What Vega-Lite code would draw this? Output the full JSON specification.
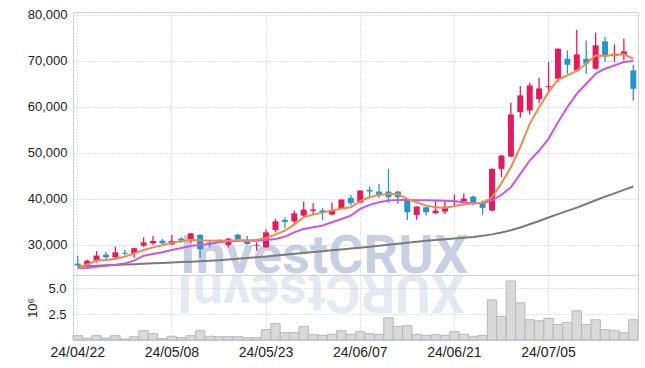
{
  "$schema": "https://vega.github.io/schema/vega-lite/v6.json",
  "padding": {"left": 26, "top": 8, "right": 8, "bottom": 4},
  "background": "white",
  "datasets": {
    "ohlc": [
      {"d":"24/04/22","o":25950,"h":27650,"l":25300,"c":25550,"v":0.42,"ma5":24930,"ma20":24930,"ma60":25300},
      {"d":"24/04/23","o":25700,"h":26800,"l":25600,"c":26600,"v":0.19,"ma5":25750,"ma20":25000,"ma60":25390},
      {"d":"24/04/24","o":26600,"h":28700,"l":26150,"c":27700,"v":0.42,"ma5":26590,"ma20":25280,"ma60":25480},
      {"d":"24/04/25","o":27900,"h":28500,"l":26800,"c":27300,"v":0.19,"ma5":26740,"ma20":25500,"ma60":25570},
      {"d":"24/04/26","o":27300,"h":29600,"l":27200,"c":28400,"v":0.42,"ma5":26960,"ma20":25720,"ma60":25660},
      {"d":"24/04/29","o":28300,"h":28900,"l":27700,"c":28100,"v":0.10,"ma5":27460,"ma20":26000,"ma60":25750},
      {"d":"24/04/30","o":28200,"h":29400,"l":27200,"c":29300,"v":0.32,"ma5":28180,"ma20":26590,"ma60":25840},
      {"d":"24/05/02","o":29850,"h":31650,"l":29560,"c":30560,"v":0.90,"ma5":28910,"ma20":27670,"ma60":25930},
      {"d":"24/05/03","o":30350,"h":31960,"l":30050,"c":30870,"v":0.61,"ma5":29480,"ma20":28040,"ma60":26020},
      {"d":"24/05/07","o":30940,"h":31300,"l":30100,"c":30350,"v":0.15,"ma5":29920,"ma20":28400,"ma60":26110},
      {"d":"24/05/08","o":30130,"h":32170,"l":30000,"c":30870,"v":0.36,"ma5":30500,"ma20":28910,"ma60":26200},
      {"d":"24/05/09","o":31370,"h":31650,"l":30500,"c":30940,"v":0.22,"ma5":30800,"ma20":29350,"ma60":26290},
      {"d":"24/05/10","o":31220,"h":32600,"l":30500,"c":32520,"v":0.42,"ma5":31100,"ma20":29780,"ma60":26380},
      {"d":"24/05/13","o":32200,"h":32300,"l":27200,"c":29100,"v":0.90,"ma5":31000,"ma20":30070,"ma60":26470},
      {"d":"24/05/14","o":30500,"h":30900,"l":29500,"c":30100,"v":0.36,"ma5":30900,"ma20":30220,"ma60":26560},
      {"d":"24/05/16","o":30500,"h":31200,"l":30400,"c":31050,"v":0.32,"ma5":30950,"ma20":30600,"ma60":26700},
      {"d":"24/05/17","o":30000,"h":31500,"l":29480,"c":31370,"v":0.32,"ma5":30940,"ma20":30780,"ma60":26860},
      {"d":"24/05/20","o":32240,"h":32450,"l":31100,"c":31220,"v":0.32,"ma5":31000,"ma20":30900,"ma60":27020},
      {"d":"24/05/21","o":30940,"h":31960,"l":30050,"c":30220,"v":0.22,"ma5":30950,"ma20":30940,"ma60":27180},
      {"d":"24/05/22","o":29800,"h":30560,"l":28760,"c":29950,"v":0.22,"ma5":31100,"ma20":30940,"ma60":27340},
      {"d":"24/05/23","o":29480,"h":33330,"l":29400,"c":32740,"v":1.00,"ma5":31520,"ma20":31090,"ma60":27500},
      {"d":"24/05/24","o":33260,"h":35650,"l":32740,"c":35130,"v":1.60,"ma5":32240,"ma20":31300,"ma60":27690},
      {"d":"24/05/27","o":35430,"h":36000,"l":33700,"c":35000,"v":0.71,"ma5":33110,"ma20":31800,"ma60":27880},
      {"d":"24/05/28","o":35130,"h":37460,"l":34200,"c":36870,"v":0.71,"ma5":34410,"ma20":32740,"ma60":28070},
      {"d":"24/05/29","o":36370,"h":39420,"l":36000,"c":37680,"v":1.32,"ma5":36000,"ma20":33480,"ma60":28260},
      {"d":"24/05/30","o":37400,"h":39050,"l":36740,"c":37700,"v":0.55,"ma5":36590,"ma20":33830,"ma60":28450},
      {"d":"24/05/31","o":37530,"h":38040,"l":35430,"c":37100,"v":0.45,"ma5":37020,"ma20":34200,"ma60":28640},
      {"d":"24/06/03","o":36590,"h":39200,"l":36400,"c":37610,"v":0.55,"ma5":37460,"ma20":34920,"ma60":28830},
      {"d":"24/06/04","o":37830,"h":39900,"l":37700,"c":39850,"v":0.90,"ma5":37890,"ma20":35650,"ma60":29020},
      {"d":"24/06/05","o":40220,"h":40870,"l":38540,"c":39050,"v":0.55,"ma5":38180,"ma20":36370,"ma60":29210},
      {"d":"24/06/07","o":39200,"h":41900,"l":39100,"c":41800,"v":0.81,"ma5":39500,"ma20":37830,"ma60":29400},
      {"d":"24/06/10","o":41950,"h":42670,"l":40130,"c":41600,"v":0.61,"ma5":40350,"ma20":38700,"ma60":29620},
      {"d":"24/06/11","o":41590,"h":43260,"l":40220,"c":40870,"v":0.55,"ma5":40870,"ma20":39270,"ma60":29840},
      {"d":"24/06/12","o":41590,"h":46520,"l":39130,"c":40350,"v":2.15,"ma5":41090,"ma20":39630,"ma60":30060},
      {"d":"24/06/13","o":41590,"h":41700,"l":38910,"c":40350,"v":1.32,"ma5":41090,"ma20":39780,"ma60":30280},
      {"d":"24/06/14","o":39630,"h":39700,"l":35430,"c":37090,"v":1.38,"ma5":40000,"ma20":39750,"ma60":30500},
      {"d":"24/06/17","o":36520,"h":38400,"l":35500,"c":38330,"v":0.55,"ma5":39270,"ma20":39700,"ma60":30720},
      {"d":"24/06/18","o":38180,"h":38300,"l":36370,"c":37090,"v":0.45,"ma5":38540,"ma20":39700,"ma60":30940},
      {"d":"24/06/19","o":36870,"h":39630,"l":36800,"c":37460,"v":0.52,"ma5":38180,"ma20":39650,"ma60":31100},
      {"d":"24/06/20","o":37240,"h":39480,"l":36740,"c":38330,"v":0.45,"ma5":38040,"ma20":39600,"ma60":31260},
      {"d":"24/06/21","o":39350,"h":40940,"l":38540,"c":39630,"v":0.81,"ma5":38480,"ma20":39480,"ma60":31420},
      {"d":"24/06/24","o":39480,"h":41240,"l":39400,"c":40070,"v":0.55,"ma5":38760,"ma20":39270,"ma60":31580},
      {"d":"24/06/25","o":40500,"h":40720,"l":38540,"c":39200,"v":0.36,"ma5":39050,"ma20":39050,"ma60":31750},
      {"d":"24/06/26","o":39270,"h":39630,"l":36590,"c":38040,"v":0.45,"ma5":39130,"ma20":39130,"ma60":32000},
      {"d":"24/06/27","o":37460,"h":46600,"l":37300,"c":46520,"v":3.88,"ma5":40350,"ma20":39630,"ma60":32300},
      {"d":"24/06/28","o":46520,"h":49600,"l":44700,"c":49400,"v":2.28,"ma5":43400,"ma20":40900,"ma60":32700},
      {"d":"24/07/01","o":49200,"h":60870,"l":49000,"c":58330,"v":5.71,"ma5":46880,"ma20":42520,"ma60":33200},
      {"d":"24/07/02","o":58830,"h":64480,"l":57610,"c":62460,"v":3.60,"ma5":51220,"ma20":45430,"ma60":33800},
      {"d":"24/07/03","o":59200,"h":65220,"l":58330,"c":64630,"v":1.96,"ma5":56290,"ma20":48330,"ma60":34500},
      {"d":"24/07/04","o":61660,"h":66300,"l":60800,"c":63980,"v":1.86,"ma5":59910,"ma20":50500,"ma60":35200},
      {"d":"24/07/05","o":64260,"h":69700,"l":63170,"c":64480,"v":2.09,"ma5":63170,"ma20":53040,"ma60":35950},
      {"d":"24/07/08","o":66090,"h":72700,"l":65350,"c":72600,"v":1.51,"ma5":65870,"ma20":56650,"ma60":36700},
      {"d":"24/07/09","o":70430,"h":72240,"l":67170,"c":69130,"v":1.70,"ma5":66800,"ma20":59910,"ma60":37400},
      {"d":"24/07/10","o":67890,"h":76740,"l":67700,"c":71370,"v":2.83,"ma5":67800,"ma20":62830,"ma60":38100},
      {"d":"24/07/11","o":70430,"h":74410,"l":67170,"c":69350,"v":1.51,"ma5":69350,"ma20":65000,"ma60":38900},
      {"d":"24/07/12","o":68260,"h":76090,"l":68100,"c":73330,"v":1.96,"ma5":71150,"ma20":67170,"ma60":39700},
      {"d":"24/07/15","o":74200,"h":75130,"l":69700,"c":71150,"v":1.00,"ma5":71000,"ma20":68260,"ma60":40500},
      {"d":"24/07/16","o":71000,"h":73540,"l":69700,"c":71520,"v":0.90,"ma5":71300,"ma20":68980,"ma60":41200},
      {"d":"24/07/17","o":71300,"h":74780,"l":70070,"c":72020,"v":0.71,"ma5":71370,"ma20":69700,"ma60":41950},
      {"d":"24/07/18","o":67890,"h":69130,"l":61370,"c":63910,"v":1.96,"ma5":70430,"ma20":69910,"ma60":42700}
    ]
  },
  "data": {"name": "ohlc"},
  "bounds": "flush",
  "spacing": 0,
  "vconcat": [
    {
      "width": 565,
      "height": 263,
      "encoding": {
        "x": {"field": "d", "type": "ordinal", "scale": {"paddingInner": 0, "paddingOuter": 0},
              "axis": {"values": ["24/04/22","24/05/08","24/05/23","24/06/07","24/06/21","24/07/05"], "labels": false, "ticks": false, "domain": false, "grid": true, "title": null, "bandPosition": 0.5}}
      },
      "layer": [
        {
          "data": {"values": [{}]},
          "mark": {"type": "text", "font": "Roboto", "fontWeight": "bold", "fontSize": 54, "color": "#c9cfe3", "baseline": "alphabetic", "align": "center", "dy": -2, "dx": 1.5},
          "encoding": {"x": {"datum": "24/05/31"}, "y": {"datum": 23480}, "text": {"value": "InvestCRUX"}}
        },
        {
          "mark": {"type": "rule", "strokeWidth": 1.3},
          "encoding": {
            "y": {"field": "l", "type": "quantitative", "scale": {"domain": [23480, 80570], "nice": false, "zero": false},
                  "axis": {"values": [30000, 40000, 50000, 60000, 70000, 80000], "format": ",d", "title": null, "grid": true}},
            "y2": {"field": "h"},
            "color": {"condition": {"test": "datum.c >= datum.o", "value": "#e21a5e"}, "value": "#2a95c8"}
          }
        },
        {
          "mark": {"type": "bar", "width": 6},
          "encoding": {
            "y": {"field": "o", "type": "quantitative"},
            "y2": {"field": "c"},
            "color": {"condition": {"test": "datum.c >= datum.o", "value": "#e21a5e"}, "value": "#2a95c8"}
          }
        },
        {
          "mark": {"type": "line", "strokeWidth": 2, "color": "#7a7a7a"},
          "encoding": {"y": {"field": "ma60", "type": "quantitative"}}
        },
        {
          "mark": {"type": "line", "strokeWidth": 2, "color": "#cc55e6"},
          "encoding": {"y": {"field": "ma20", "type": "quantitative"}}
        },
        {
          "mark": {"type": "line", "strokeWidth": 2, "color": "#ef8a4c"},
          "encoding": {"y": {"field": "ma5", "type": "quantitative"}}
        }
      ]
    },
    {
      "width": 565,
      "height": 65,
      "encoding": {
        "x": {"field": "d", "type": "ordinal", "scale": {"paddingInner": 0, "paddingOuter": 0},
              "axis": {"values": ["24/04/22","24/05/08","24/05/23","24/06/07","24/06/21","24/07/05"], "labelAngle": 0, "ticks": false, "domain": false, "grid": true, "title": null, "bandPosition": 0.5, "labelFontSize": 14, "labelPadding": 5}}
      },
      "layer": [
        {
          "data": {"values": [{}]},
          "mark": {"type": "text", "font": "Roboto", "fontWeight": "bold", "fontSize": 54, "color": "#c9cfe3", "opacity": 0.45, "baseline": "alphabetic", "align": "center", "angle": 180, "dx": 1.5},
          "encoding": {"x": {"datum": "24/05/31"}, "y": {"datum": 6.29}, "text": {"value": "XURCtsevnI"}}
        },
        {
          "mark": {"type": "bar", "color": "#d9d9d9", "stroke": "#b8b8b8", "strokeWidth": 1},
          "encoding": {
            "y": {"field": "v", "type": "quantitative", "scale": {"domain": [0, 6.29], "nice": false},
                  "axis": {"values": [2.5, 5], "format": ".1f", "title": "10⁶", "grid": true, "titleFontWeight": "normal", "titleFontSize": 13, "titleColor": "#222222", "titlePadding": 8, "labelPadding": 7}}
          }
        }
      ]
    }
  ],
  "config": {
    "view": {"stroke": "#cfd0da", "strokeWidth": 1},
    "axis": {"gridColor": "#c2c5d6", "gridDash": [1, 2], "gridWidth": 1, "ticks": false, "domain": false, "labelFont": "Liberation Sans", "labelFontSize": 13, "labelColor": "#222222", "labelPadding": 6, "titleFont": "Liberation Sans"}
  }
}
